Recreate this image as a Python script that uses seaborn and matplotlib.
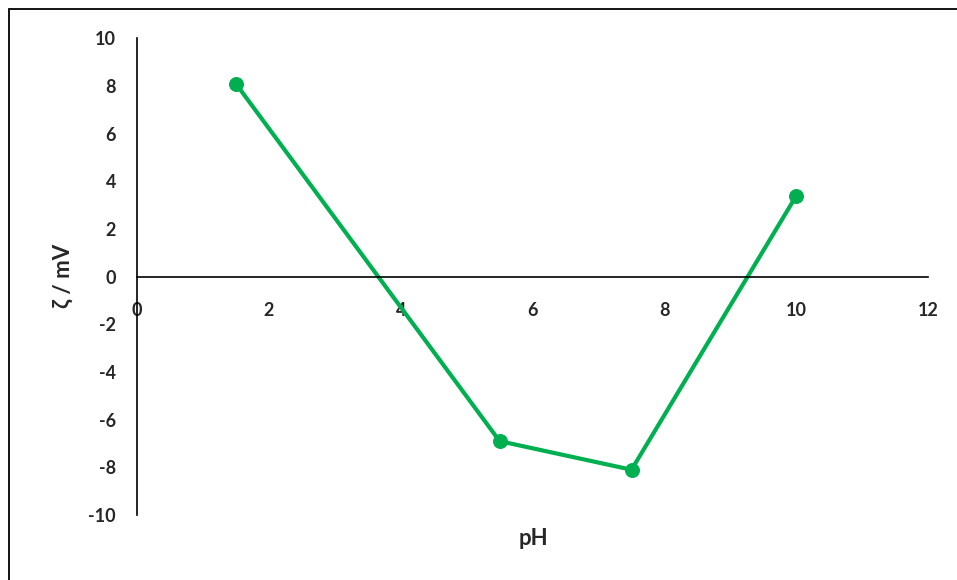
import matplotlib.pyplot as plt
import matplotlib.patches as patches
import seaborn as sns
import pandas as pd

ph = [1.5, 5.5, 7.5, 10]
zeta = [8.1, -6.9, -8.1, 3.4]
x_ticks = [0, 2, 4, 6, 8, 10, 12]
y_ticks = [-10, -8, -6, -4, -2, 0, 2, 4, 6, 8, 10]

df = pd.DataFrame({"pH": ph, "zeta": zeta})

sns.set_style("white")
plt.rcParams["font.family"] = ["Lato", "DejaVu Sans"]

fig = plt.figure(figsize=(9.57, 5.8), dpi=100)
ax = fig.add_axes([0.143, 0.112, 0.827, 0.822])

sns.lineplot(data=df, x="pH", y="zeta", ax=ax, color="#00B050",
             linewidth=3, marker="o", markersize=10,
             markeredgecolor="#00B050")

# axes cross at the origin (do this before tick labels, it resets them)
ax.spines["left"].set_position(("data", 0))
ax.spines["bottom"].set_position(("data", 0))
ax.spines["right"].set_visible(False)
ax.spines["top"].set_visible(False)
for s in ["left", "bottom"]:
    ax.spines[s].set_color("black")
    ax.spines[s].set_linewidth(1.2)

ax.set_xlim(0, 12)
ax.set_ylim(-10, 10)
ax.set_xticks(x_ticks)
ax.set_yticks(y_ticks)
ax.set_xticklabels([str(t) for t in x_ticks], fontsize=13, fontweight="bold")
ax.set_yticklabels([str(t) for t in y_ticks], fontsize=13, fontweight="bold")
ax.tick_params(axis="y", length=0, pad=15)
ax.tick_params(axis="x", length=0, pad=18)

ax.set_xlabel("")
ax.set_ylabel("")
fig.text(0.557, 0.072, "pH", ha="center", va="center",
         fontsize=16, fontweight="bold")
fig.text(0.066, 0.524, "ζ / mV", ha="center", va="center",
         fontsize=16, fontweight="bold", rotation=90)

fig.patches.append(patches.Rectangle((0.0094, -0.1), 1.1, 1.085,
                                     transform=fig.transFigure, fill=False,
                                     edgecolor="black", linewidth=1.3))

plt.savefig("out.png", dpi=100)
